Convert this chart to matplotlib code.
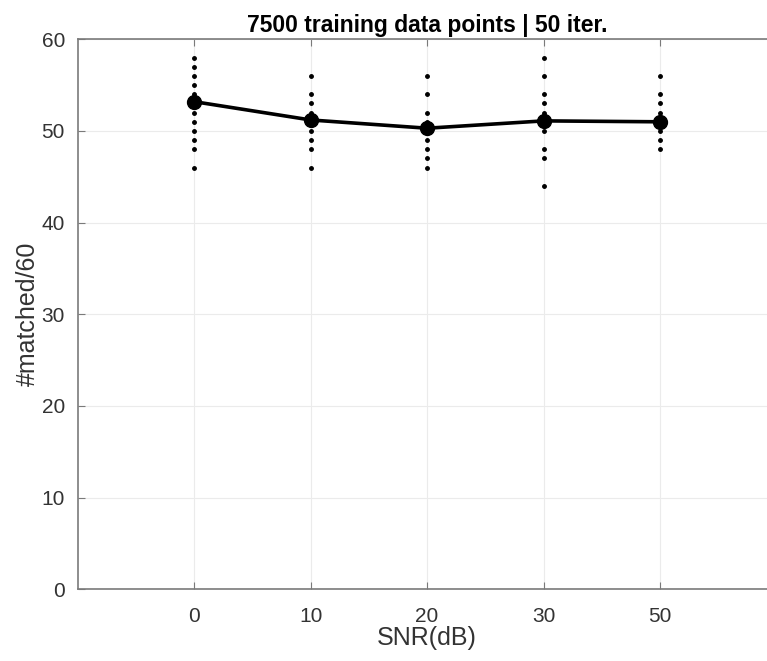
import matplotlib
matplotlib.use("Agg")
import matplotlib.pyplot as plt

snr_labels = ["0", "10", "20", "30", "50"]
mean_matched = [53.2, 51.2, 50.3, 51.1, 51.0]
iter_values = [
    [58, 57, 56, 55, 54, 53, 52, 51, 50, 49, 48, 46],
    [56, 54, 53, 52, 51, 50, 49, 48, 46],
    [56, 54, 52, 51, 50, 49, 48, 47, 46],
    [58, 56, 54, 53, 52, 51, 50, 48, 47, 44],
    [56, 54, 53, 52, 51, 50, 49, 48],
]
title = "7500 training data points | 50 iter."

plt.rcParams['font.family'] = ['Liberation Sans', 'DejaVu Sans']

fig = plt.figure(figsize=(7.67, 6.61), dpi=100)
ax = fig.add_axes([77.5/767, 71.7/661, (776.75-77.5)/767, (589.3-39.3)/661])

xpos = list(range(1, len(snr_labels) + 1))
for x, vals in zip(xpos, iter_values):
    ax.plot([x]*len(vals), vals, linestyle='none', marker='.', color='black', markersize=5)
ax.plot(xpos, mean_matched, color='black', linewidth=2.6, marker='o', markersize=10)

ax.set_xlim(0, 6)
ax.set_ylim(0, 60)
ax.set_xticks(xpos)
ax.set_xticklabels(snr_labels)
ax.set_yticks(range(0, 61, 10))
ax.grid(True, color='#ebebeb', linewidth=0.8)
ax.set_axisbelow(True)
ax.tick_params(direction='in', length=5, color='#7a7a7a', labelsize=15, labelcolor='#333333',
               top=True, right=True)
ax.tick_params(axis='x', pad=13)
ax.tick_params(axis='y', pad=9)
for s in ax.spines.values():
    s.set_color('#7a7a7a')
    s.set_linewidth(1.2)
ax.set_xlabel("SNR(dB)", fontsize=18, color='#333333', labelpad=0)
ax.set_ylabel("#matched/60", fontsize=18, color='#333333', labelpad=1)
ax.set_title(title, fontsize=16.5, fontweight='bold', pad=5)

fig.savefig("out.png", dpi=100)
